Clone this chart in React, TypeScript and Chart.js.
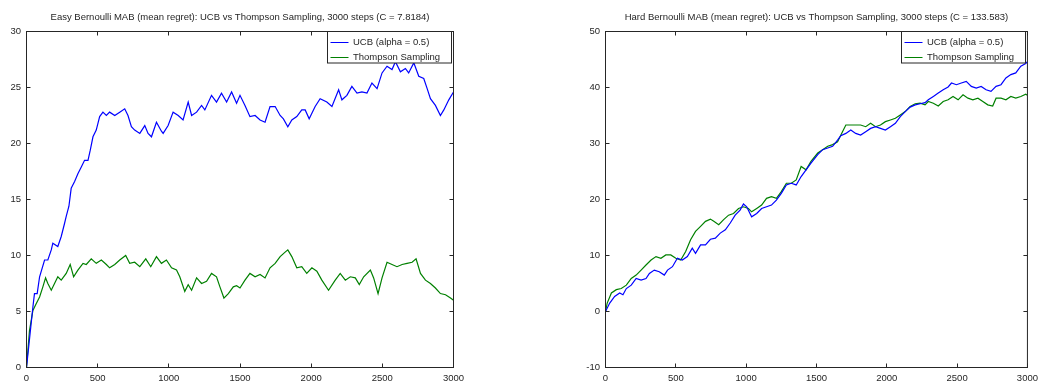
import React, { useEffect, useRef } from 'react';
import { Chart, registerables } from 'chart.js';

Chart.register(...registerables);

const FONT = '"Liberation Sans", Arial, Helvetica, sans-serif';
const TEXT = '#262626';

const SERIES_LABELS = ['UCB (alpha = 0.5)', 'Thompson Sampling'];
const SERIES_COLORS = ['#0000ff', '#008000'];

const EASY_TITLE = 'Easy Bernoulli MAB (mean regret): UCB vs Thompson Sampling, 3000 steps (C = 7.8184)';
const HARD_TITLE = 'Hard Bernoulli MAB (mean regret): UCB vs Thompson Sampling, 3000 steps (C = 133.583)';

// Easy problem, UCB
const easyUcbSteps = [0, 45, 56, 75, 92, 127, 150, 174, 185, 220, 244, 268, 279, 298, 314, 338, 361, 385, 408, 432, 448, 467, 490, 514, 537, 561, 584, 620, 655, 690, 713, 737, 760, 796, 831, 854, 878, 913, 948, 960, 995, 1030, 1066, 1100, 1136, 1160, 1195, 1230, 1253, 1300, 1335, 1370, 1406, 1441, 1476, 1500, 1535, 1570, 1606, 1641, 1676, 1711, 1747, 1782, 1805, 1836, 1864, 1899, 1934, 1958, 1986, 2028, 2063, 2110, 2146, 2193, 2216, 2251, 2286, 2322, 2357, 2392, 2427, 2463, 2498, 2533, 2568, 2592, 2627, 2662, 2685, 2721, 2756, 2791, 2815, 2838, 2873, 2908, 2932, 2967, 3000];
const easyUcbRegret = [0, 5.4, 6.6, 6.6, 8.1, 9.6, 9.6, 10.5, 11.1, 10.8, 11.7, 12.9, 13.5, 14.4, 16.0, 16.6, 17.3, 17.9, 18.5, 18.5, 19.4, 20.6, 21.2, 22.4, 22.8, 22.5, 22.8, 22.5, 22.8, 23.1, 22.5, 21.5, 21.2, 20.9, 21.6, 20.9, 20.6, 21.9, 21.1, 20.9, 21.6, 22.8, 22.5, 22.1, 23.7, 22.5, 22.8, 23.4, 23.0, 24.3, 23.7, 24.5, 23.7, 24.6, 23.6, 24.3, 23.4, 22.4, 22.5, 22.1, 21.9, 23.3, 23.3, 22.5, 22.2, 21.5, 22.1, 22.4, 23.0, 23.0, 22.2, 23.3, 24.0, 23.7, 23.3, 24.8, 23.9, 24.3, 25.1, 24.5, 24.6, 24.5, 25.4, 24.9, 26.3, 26.9, 26.6, 27.3, 26.4, 26.7, 26.3, 27.2, 26.0, 25.8, 24.9, 24.0, 23.4, 22.5, 23.0, 23.9, 24.6];

// Easy problem, Thompson Sampling
const easyTsSteps = [0, 21, 45, 68, 92, 115, 134, 150, 174, 197, 220, 244, 279, 307, 331, 361, 397, 420, 455, 490, 526, 561, 584, 620, 655, 697, 725, 760, 796, 838, 873, 913, 948, 983, 1019, 1054, 1077, 1112, 1136, 1160, 1195, 1230, 1265, 1300, 1335, 1359, 1387, 1418, 1453, 1476, 1500, 1535, 1570, 1606, 1641, 1676, 1711, 1747, 1782, 1817, 1836, 1864, 1899, 1934, 1969, 2005, 2040, 2075, 2122, 2169, 2204, 2240, 2275, 2310, 2338, 2369, 2416, 2439, 2470, 2498, 2533, 2568, 2603, 2639, 2674, 2709, 2737, 2768, 2803, 2838, 2873, 2908, 2944, 2979, 3000];
const easyTsRegret = [0, 3.3, 5.1, 5.7, 6.3, 7.2, 8.0, 7.5, 6.9, 7.5, 8.1, 7.8, 8.4, 9.2, 8.1, 8.7, 9.3, 9.2, 9.7, 9.3, 9.6, 9.2, 8.9, 9.2, 9.6, 10.0, 9.3, 9.4, 9.0, 9.7, 9.0, 9.9, 9.3, 9.6, 8.9, 8.7, 8.1, 6.8, 7.4, 6.9, 8.0, 7.5, 7.7, 8.4, 8.1, 7.2, 6.2, 6.6, 7.2, 7.3, 7.1, 7.8, 8.4, 8.1, 8.3, 8.0, 8.9, 9.3, 9.9, 10.3, 10.5, 9.9, 8.9, 9.0, 8.4, 8.9, 8.6, 7.8, 6.9, 7.8, 8.4, 7.8, 8.1, 8.0, 7.4, 8.1, 8.7, 8.0, 6.6, 8.0, 9.4, 9.2, 9.0, 9.2, 9.3, 9.4, 9.7, 8.4, 7.8, 7.5, 7.1, 6.6, 6.5, 6.2, 6.0];

// Hard problem, UCB
const hardUcbSteps = [0, 30, 65, 101, 124, 148, 183, 218, 253, 288, 312, 347, 382, 418, 441, 476, 511, 546, 582, 617, 640, 676, 711, 746, 781, 816, 852, 887, 922, 957, 981, 1004, 1039, 1075, 1110, 1145, 1180, 1215, 1250, 1286, 1321, 1356, 1391, 1426, 1461, 1509, 1544, 1580, 1615, 1650, 1673, 1709, 1744, 1779, 1814, 1850, 1885, 1920, 1955, 1990, 2026, 2061, 2096, 2131, 2166, 2202, 2237, 2272, 2295, 2331, 2366, 2401, 2436, 2460, 2495, 2530, 2565, 2601, 2636, 2671, 2706, 2741, 2777, 2812, 2847, 2882, 2917, 2953, 2988, 3000];
const hardUcbRegret = [0, 1.5, 2.7, 3.3, 3.0, 4.1, 4.7, 5.9, 5.6, 5.9, 6.8, 7.4, 7.1, 6.5, 7.4, 8.0, 9.5, 9.2, 9.8, 11.3, 10.4, 11.9, 11.9, 12.9, 13.1, 14.0, 14.6, 15.8, 17.2, 18.1, 19.2, 18.7, 16.9, 17.5, 18.4, 18.7, 19.0, 19.9, 21.1, 22.6, 22.9, 22.6, 24.1, 25.3, 26.5, 28.0, 28.9, 29.2, 29.5, 30.6, 31.4, 31.8, 32.4, 31.8, 31.5, 32.1, 32.7, 33.0, 32.7, 32.4, 33.0, 33.6, 34.8, 35.7, 36.5, 36.9, 37.1, 37.3, 37.8, 38.4, 39.0, 39.6, 40.1, 40.8, 40.5, 40.8, 41.1, 40.2, 39.9, 40.2, 39.6, 39.3, 40.2, 40.5, 41.7, 42.3, 42.6, 43.8, 44.3, 44.6];

// Hard problem, Thompson Sampling
const hardTsSteps = [0, 12, 42, 77, 112, 148, 183, 218, 253, 288, 324, 359, 394, 429, 464, 500, 535, 570, 605, 640, 676, 711, 746, 770, 805, 840, 875, 910, 946, 981, 1016, 1039, 1075, 1110, 1145, 1180, 1215, 1250, 1286, 1321, 1356, 1391, 1426, 1461, 1509, 1544, 1580, 1615, 1650, 1685, 1709, 1744, 1779, 1814, 1850, 1885, 1920, 1955, 1990, 2026, 2061, 2096, 2131, 2166, 2202, 2237, 2272, 2295, 2331, 2366, 2401, 2436, 2471, 2507, 2542, 2577, 2612, 2648, 2683, 2718, 2753, 2777, 2812, 2847, 2882, 2917, 2953, 2988, 3000];
const hardTsRegret = [0, 1.5, 3.3, 3.9, 4.1, 4.7, 5.9, 6.5, 7.4, 8.3, 9.2, 9.8, 9.5, 10.1, 10.1, 9.5, 9.2, 10.7, 12.8, 14.3, 15.2, 16.1, 16.5, 16.1, 15.5, 16.4, 17.2, 17.5, 18.4, 18.7, 18.4, 17.8, 18.4, 19.0, 20.2, 20.5, 20.2, 21.4, 22.9, 22.9, 23.5, 25.9, 25.3, 26.8, 28.3, 28.9, 29.5, 29.8, 30.3, 32.1, 33.3, 33.3, 33.3, 33.3, 33.0, 33.6, 33.0, 33.3, 33.9, 34.2, 34.5, 35.1, 35.7, 36.6, 37.1, 37.2, 36.9, 37.5, 37.2, 36.7, 37.5, 37.8, 38.4, 37.8, 38.7, 38.1, 37.8, 38.1, 37.5, 36.9, 36.7, 38.1, 38.1, 37.8, 38.4, 38.1, 38.4, 38.8, 38.6];

const X_MIN = 0;
const X_MAX = 3000;
const X_STEP = 500;
const EASY_Y = { min: 0, max: 30, step: 5 };
const HARD_Y = { min: -10, max: 50, step: 10 };

function zip(xs: number[], ys: number[]) {
  return xs.map((x, i) => ({ x, y: ys[i] }));
}

const framePlugin = {
  id: 'frame',
  afterDatasetsDraw(chart: any) {
    const { ctx, chartArea: a, scales } = chart;
    ctx.save();
    ctx.strokeStyle = TEXT;
    ctx.lineWidth = 1;
    ctx.strokeRect(a.left, a.top, a.right - a.left, a.bottom - a.top);
    const L = 4;
    ctx.beginPath();
    scales.x.ticks.forEach((t: any) => {
      const p = Math.floor(scales.x.getPixelForValue(t.value)) + 0.5;
      ctx.moveTo(p, a.bottom);
      ctx.lineTo(p, a.bottom - L);
      ctx.moveTo(p, a.top);
      ctx.lineTo(p, a.top + L);
    });
    scales.y.ticks.forEach((t: any) => {
      const p = Math.floor(scales.y.getPixelForValue(t.value)) + 0.5;
      ctx.moveTo(a.left, p);
      ctx.lineTo(a.left + L, p);
      ctx.moveTo(a.right, p);
      ctx.lineTo(a.right - L, p);
    });
    ctx.stroke();

    // legend box inside the top-right corner
    const bw = 124;
    const bh = 31.5;
    const right = Math.floor(a.right - 2) + 0.5;
    const left = right - bw;
    const top = a.top;
    ctx.fillStyle = '#ffffff';
    ctx.fillRect(left, top, bw, bh);
    ctx.strokeStyle = TEXT;
    ctx.strokeRect(left, top, bw, bh);
    ctx.font = `9.5px ${FONT}`;
    ctx.textBaseline = 'middle';
    ctx.textAlign = 'left';
    chart.data.datasets.forEach((ds: any, i: number) => {
      const y = Math.floor(top + 10.8 + i * 15) + 0.5;
      ctx.strokeStyle = ds.borderColor;
      ctx.lineWidth = 1;
      ctx.beginPath();
      ctx.moveTo(left + 3, y);
      ctx.lineTo(left + 21, y);
      ctx.stroke();
      ctx.fillStyle = TEXT;
      ctx.fillText(ds.label, left + 25.5, y);
    });
    ctx.restore();
  },
};

function makeConfig(
  title: string,
  ucb: { x: number; y: number }[],
  ts: { x: number; y: number }[],
  yr: { min: number; max: number; step: number },
  yWidth: number,
  padLeft: number,
  padRight: number
): any {
  const tickFont = { family: FONT, size: 9.5, lineHeight: 1.2 };
  return {
    type: 'line',
    data: {
      datasets: [
        { label: SERIES_LABELS[0], data: ucb, borderColor: SERIES_COLORS[0], borderWidth: 1.2, pointRadius: 0, tension: 0, fill: false },
        { label: SERIES_LABELS[1], data: ts, borderColor: SERIES_COLORS[1], borderWidth: 1.2, pointRadius: 0, tension: 0, fill: false },
      ],
    },
    options: {
      animation: false,
      responsive: false,
      events: [],
      layout: { padding: { left: padLeft, right: padRight, top: 0, bottom: 0 } },
      plugins: {
        legend: { display: false },
        tooltip: { enabled: false },
        title: {
          display: true,
          text: title,
          color: TEXT,
          fullSize: false,
          font: { family: FONT, size: 9.5, weight: 'normal', lineHeight: 1.2 },
          padding: { top: 11.6, bottom: 8.5 },
        },
      },
      scales: {
        x: {
          type: 'linear',
          min: X_MIN,
          max: X_MAX,
          grid: { display: false, drawTicks: false },
          border: { display: false },
          ticks: {
            stepSize: X_STEP,
            maxRotation: 0,
            autoSkip: false,
            padding: 5,
            color: TEXT,
            font: tickFont,
            callback: (v: number) => String(v),
          },
          afterFit: (s: any) => {
            s.height = 13.5;
          },
        },
        y: {
          type: 'linear',
          min: yr.min,
          max: yr.max,
          grid: { display: false, drawTicks: false },
          border: { display: false },
          ticks: {
            stepSize: yr.step,
            padding: 5.5,
            color: TEXT,
            font: tickFont,
            callback: (v: number) => String(v),
          },
          afterFit: (s: any) => {
            s.width = yWidth;
          },
        },
      },
    },
    plugins: [framePlugin],
  };
}

export default function App() {
  const ref1 = useRef<HTMLCanvasElement>(null);
  const ref2 = useRef<HTMLCanvasElement>(null);

  useEffect(() => {
    const c1 = new Chart(
      ref1.current as HTMLCanvasElement,
      makeConfig(EASY_TITLE, zip(easyUcbSteps, easyUcbRegret), zip(easyTsSteps, easyTsRegret), EASY_Y, 26.5, 0, 67.5)
    );
    const c2 = new Chart(
      ref2.current as HTMLCanvasElement,
      makeConfig(HARD_TITLE, zip(hardUcbSteps, hardUcbRegret), zip(hardTsSteps, hardTsRegret), HARD_Y, 30, 54.5, 11.5)
    );
    return () => {
      c1.destroy();
      c2.destroy();
    };
  }, []);

  return (
    <div style={{ position: 'fixed', left: 0, top: 0, width: 1043, height: 381, overflow: 'hidden', background: '#ffffff' }}>
      <canvas ref={ref1} width={521} height={381} style={{ position: 'absolute', left: 0, top: 0, width: 521, height: 381, display: 'block' }} />
      <canvas ref={ref2} width={522} height={381} style={{ position: 'absolute', left: 521, top: 0, width: 522, height: 381, display: 'block' }} />
    </div>
  );
}
